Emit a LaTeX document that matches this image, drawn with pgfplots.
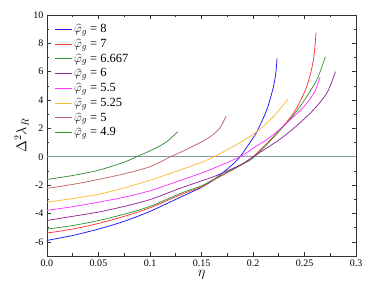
\documentclass[border=0pt]{standalone}
\usepackage{pgfplots}
\pgfplotsset{compat=1.18}
\usepackage{fontspec}
\setmainfont{Liberation Serif}
\definecolor{cblue}{rgb}{0.1,0.1,1}
\definecolor{cred}{rgb}{1,0.2,0.2}
\definecolor{cgreen}{rgb}{0.2,0.6,0.2}
\definecolor{cpurple}{rgb}{0.58,0.15,0.58}
\definecolor{cmag}{rgb}{1,0.2,1}
\definecolor{corange}{rgb}{1,0.72,0.2}
\definecolor{cbrown}{rgb}{0.75,0.4,0.4}
\definecolor{cgreenb}{rgb}{0.22,0.55,0.22}
\definecolor{czero}{rgb}{0.5,0.6,0.6}
\begin{document}
\begin{tikzpicture}
\begin{axis}[
  scale only axis,
  width=309pt, height=241pt,
  xmin=0, xmax=0.3, ymin=-7, ymax=10,
  xtick={0,0.05,0.1,0.15,0.2,0.25,0.3},
  xticklabels={0.0,0.05,0.1,0.15,0.2,0.25,0.3},
  ytick={-6,-4,-2,0,2,4,6,8,10},
  yticklabels={-6,-4,-2,0,2,4,6,8,10},
  minor x tick num=1, minor y tick num=1,
  tick align=inside, major tick length=4pt, minor tick length=2.5pt,
  axis line style={line width=0.8pt, black!80},
  every tick/.style={black!80, line width=0.6pt},
  tick label style={font=\fontsize{10}{11}\selectfont},
  xlabel={$\eta$}, ylabel={$\Delta^2\lambda_R$},
  label style={font=\fontsize{14}{15}\selectfont},
  xlabel style={yshift=3pt},
  ylabel style={yshift=-2pt},
  legend style={at={(0.015,0.975)}, anchor=north west, draw=none, fill=none,
    font=\fontsize{12.5}{13}\selectfont, row sep=2.6pt,
    nodes={inner sep=1.2pt}},
  legend cell align=left,
  legend image post style={line width=1pt},
  every axis plot/.append style={line width=0.75pt},
]
\addplot[czero, line width=1.3pt, forget plot] coordinates {(0,0) (0.3,0)};
\addplot[color=cblue, smooth] coordinates {(0,-5.9) (0.025,-5.55) (0.05,-5.1) (0.075,-4.55) (0.1,-3.85) (0.129,-2.87) (0.15,-2.15) (0.1615,-1.64) (0.1777,-0.7) (0.1874,0) (0.197,1.0) (0.2036,1.75) (0.2133,3.3) (0.2197,4.9) (0.2223,6.0) (0.2233,6.94)};
\addlegendentry{$\widehat{\varphi}_g$ = 8}
\addplot[color=cred, smooth] coordinates {(0,-5.38) (0.025,-5.1) (0.05,-4.7) (0.075,-4.2) (0.1,-3.6) (0.129,-2.7) (0.15,-2.12) (0.1615,-1.65) (0.1874,-0.63) (0.2,0) (0.2197,1.41) (0.2392,3.06) (0.2521,4.94) (0.2586,6.82) (0.2612,8.75)};
\addlegendentry{$\widehat{\varphi}_g$ = 7}
\addplot[color=cgreen, smooth] coordinates {(0,-5.1) (0.025,-4.85) (0.05,-4.5) (0.075,-4.05) (0.1,-3.5) (0.129,-2.6) (0.15,-2.05) (0.1615,-1.6) (0.1874,-0.6) (0.2015,0) (0.2294,2.12) (0.2456,3.53) (0.2618,5.41) (0.2702,7.06)};
\addlegendentry{$\widehat{\varphi}_g$ = 6.667}
\addplot[color=cpurple, smooth] coordinates {(0,-4.49) (0.025,-4.2) (0.05,-3.9) (0.075,-3.5) (0.1,-3.02) (0.129,-2.23) (0.15,-1.7) (0.1615,-1.41) (0.1874,-0.59) (0.2,0) (0.2294,1.41) (0.2553,3.06) (0.2715,4.47) (0.28,6.0)};
\addlegendentry{$\widehat{\varphi}_g$ = 6}
\addplot[color=cmag, smooth] coordinates {(0,-3.78) (0.025,-3.52) (0.05,-3.2) (0.075,-2.85) (0.1,-2.4) (0.129,-1.68) (0.15,-1.15) (0.1615,-0.82) (0.1874,0) (0.2,0.6) (0.215,1.3) (0.23,2.2) (0.245,3.2) (0.2521,3.77) (0.26,4.6) (0.265,5.6)};
\addlegendentry{$\widehat{\varphi}_g$ = 5.5}
\addplot[color=corange, smooth] coordinates {(0,-3.2) (0.025,-2.95) (0.05,-2.65) (0.075,-2.2) (0.1,-1.65) (0.129,-0.94) (0.15,-0.4) (0.162,0) (0.175,0.5) (0.19,1.1) (0.205,1.85) (0.22,2.85) (0.2337,4.05)};
\addlegendentry{$\widehat{\varphi}_g$ = 5.25}
\addplot[color=cbrown, smooth] coordinates {(0,-2.23) (0.025,-1.95) (0.05,-1.6) (0.075,-1.2) (0.1,-0.7) (0.12,0) (0.135,0.5) (0.15,1.05) (0.16,1.5) (0.168,2.05) (0.1738,2.85)};
\addlegendentry{$\widehat{\varphi}_g$ = 5}
\addplot[color=cgreenb, smooth] coordinates {(0,-1.6) (0.025,-1.32) (0.05,-0.95) (0.075,-0.38) (0.087,0) (0.1,0.42) (0.115,1.0) (0.127,1.77)};
\addlegendentry{$\widehat{\varphi}_g$ = 4.9}
\end{axis}
\pgfresetboundingbox
\path (current axis.south west) ++(-47pt,-38pt) coordinate (bl);
\path (current axis.north east) ++(18pt,15pt) coordinate (tr);
\useasboundingbox (bl) rectangle (tr);
\end{tikzpicture}
\end{document}
